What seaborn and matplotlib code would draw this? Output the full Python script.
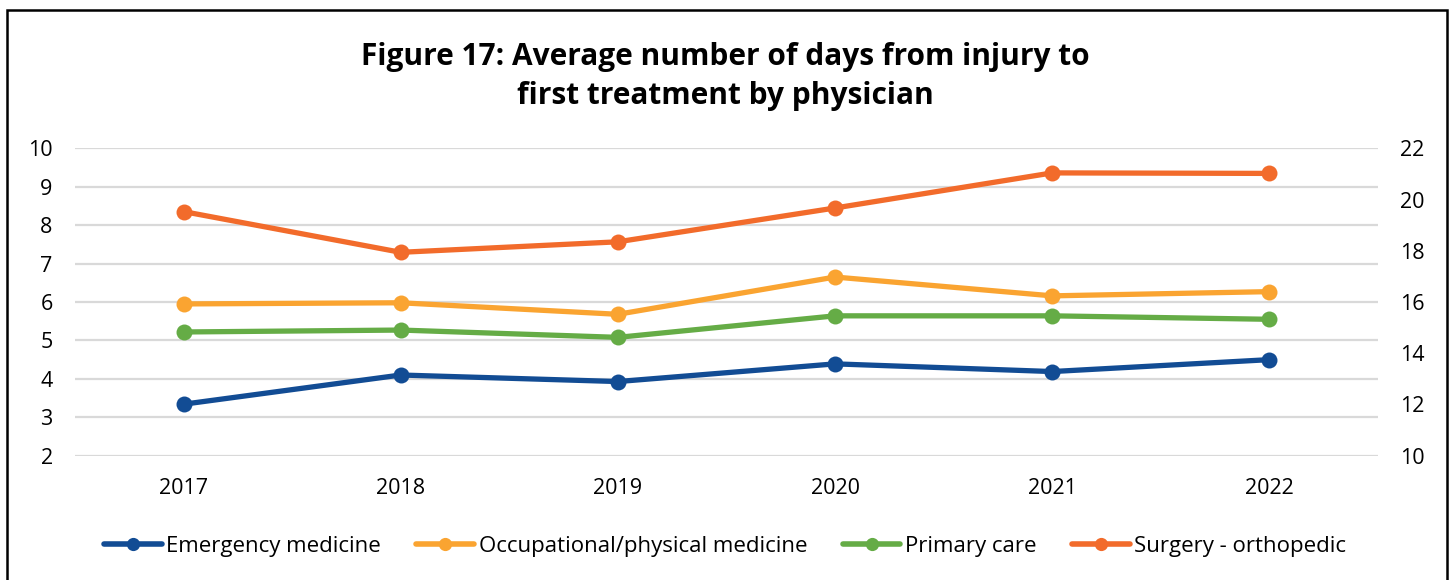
import matplotlib
matplotlib.use('Agg')
import matplotlib.pyplot as plt
from matplotlib.lines import Line2D
from matplotlib.patches import Rectangle
import numpy as np
import pandas as pd
import seaborn as sns

years = ['2017', '2018', '2019', '2020', '2021', '2022']
emergency = [3.34, 4.10, 3.93, 4.39, 4.19, 4.50]
occupational = [5.95, 5.98, 5.68, 6.65, 6.16, 6.27]
primary = [5.22, 5.27, 5.08, 5.64, 5.64, 5.55]
# surgery is plotted against the secondary (right) axis
surgery = [19.53, 17.94, 18.35, 19.67, 21.04, 21.02]

left_series = {
    'Emergency medicine': emergency,
    'Occupational/physical medicine': occupational,
    'Primary care': primary,
}
right_series = {'Surgery - orthopedic': surgery}

COLORS = {
    'Emergency medicine': '#124C94',
    'Occupational/physical medicine': '#FAA431',
    'Primary care': '#65AC46',
    'Surgery - orthopedic': '#F26B2B',
}


def long_df(series):
    rows = []
    for name, vals in series.items():
        for i, v in enumerate(vals):
            rows.append({'pos': i, 'year': years[i], 'value': v, 'series': name})
    return pd.DataFrame(rows)


sns.set_theme(style='white')
plt.rcParams['font.family'] = ['Open Sans', 'DejaVu Sans']
plt.rcParams['text.color'] = 'black'

fig = plt.figure(figsize=(14.5, 5.8), dpi=100)
ax = fig.add_axes([0.0517, 0.2143, 0.8986, 0.53])
ax2 = ax.twinx()

line_kw = dict(x='pos', y='value', hue='series', palette=COLORS, marker='o',
               markersize=11.5, markeredgewidth=0, linewidth=3.8, legend=False)
sns.lineplot(data=long_df(left_series), ax=ax, **line_kw)
sns.lineplot(data=long_df(right_series), ax=ax2, **line_kw)

ax.set_xlim(-0.5, len(years) - 0.5)
ax.set_ylim(2, 10)
ax.set_yticks(np.arange(2, 11, 1))
ax2.set_ylim(10, 22)
ax2.set_yticks(np.arange(10, 23, 2))
ax.set_xticks(range(len(years)))
ax.set_xticklabels(years)
ax.grid(axis='y', color='#d9d9d9', linewidth=1.6)
ax.set_axisbelow(True)
for a in (ax, ax2):
    a.set_xlabel('')
    a.set_ylabel('')
    for s in a.spines.values():
        s.set_visible(False)
    a.tick_params(length=0, labelsize=15.5, colors='black')
ax.tick_params(axis='y', pad=16)
ax2.tick_params(axis='y', pad=16)
ax.tick_params(axis='x', pad=16)

fig.suptitle('Figure 17: Average number of days from injury to\nfirst treatment by physician',
             x=0.5, y=0.928, fontsize=21.5, fontweight='bold', linespacing=1.42,
             color='black')

handles = [Line2D([], [], color=COLORS[n], lw=4, marker='o', markersize=9.5,
                  markeredgewidth=0) for n in COLORS]
fig.legend(handles, list(COLORS), loc='center', bbox_to_anchor=(0.5, 0.058), ncol=4,
           frameon=False, fontsize=16, handlelength=2.6, handletextpad=0.2,
           columnspacing=1.6)

fig.patches.append(Rectangle((0.0048, -0.02), 0.9932, 1.003, transform=fig.transFigure,
                             fill=False, edgecolor='black', linewidth=1.8))

fig.savefig('out.png', dpi=100)
